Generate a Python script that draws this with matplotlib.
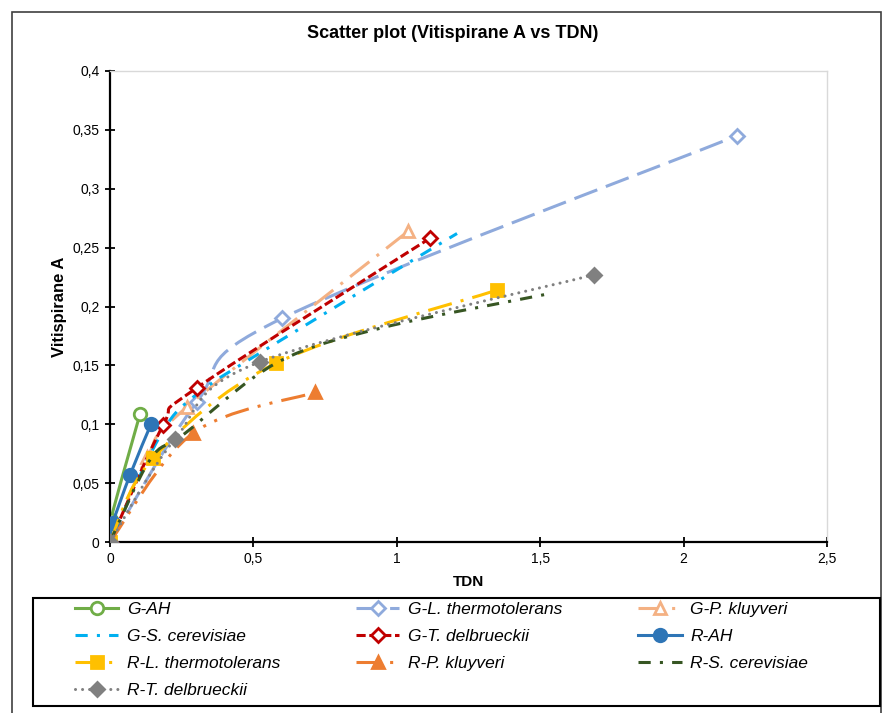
import numpy as np
import matplotlib
matplotlib.use('Agg')
import matplotlib.pyplot as plt
from matplotlib.path import Path
from matplotlib.patches import PathPatch, Rectangle
from matplotlib.lines import Line2D
from matplotlib.ticker import FuncFormatter

# values
names = ['G-AH', 'G-L. thermotolerans', 'G-P. kluyveri', 'G-S. cerevisiae',
         'G-T. delbrueckii', 'R-AH', 'R-L. thermotolerans', 'R-P. kluyveri',
         'R-S. cerevisiae', 'R-T. delbrueckii']

g_ah_x = [0, 0.003, 0.105]
g_ah_y = [0, 0.019, 0.109]
g_lt_x = [0, 0.303, 0.6, 2.186]
g_lt_y = [0, 0.119, 0.19, 0.345]
g_pk_x = [0, 0.13, 0.27, 1.04]
g_pk_y = [0, 0.072, 0.115, 0.264]
g_sc_x = [0, 0.17, 0.3, 0.6, 1.21]
g_sc_y = [0, 0.088, 0.125, 0.172, 0.262]
g_td_x = [0, 0.185, 0.303, 1.116]
g_td_y = [0, 0.099, 0.131, 0.258]
r_ah_x = [0, 0.01, 0.07, 0.143]
r_ah_y = [0, 0.016, 0.057, 0.1]
r_lt_x = [0, 0.15, 0.58, 1.35]
r_lt_y = [0, 0.071, 0.152, 0.214]
r_pk_x = [0, 0.29, 0.715]
r_pk_y = [0, 0.0925, 0.127]
r_sc_x = [0, 0.14, 0.26, 0.58, 0.95, 1.534]
r_sc_y = [0, 0.07, 0.092, 0.152, 0.182, 0.211]
r_td_x = [0, 0.227, 0.523, 1.688]
r_td_y = [0, 0.0875, 0.153, 0.227]

xs = [g_ah_x, g_lt_x, g_pk_x, g_sc_x, g_td_x, r_ah_x, r_lt_x, r_pk_x, r_sc_x, r_td_x]
ys = [g_ah_y, g_lt_y, g_pk_y, g_sc_y, g_td_y, r_ah_y, r_lt_y, r_pk_y, r_sc_y, r_td_y]

colors = ['#70AD47', '#8FAADC', '#F4B183', '#00B0F0', '#C00000',
          '#2E75B6', '#FFC000', '#ED7D31', '#375623', '#808080']
styles = ['-', (0, (8, 3)), (0, (8, 3, 1, 3)), (0, (4, 3, 1, 3)), (0, (3, 1.2)),
          '-', (0, (8, 3, 1, 3)), (0, (8, 3, 1, 3, 1, 3)), (0, (4, 3, 1, 3)), (0, (0.01, 2.3))]
markers = ['o', 'D', '^', 'None', 'D', 'o', 's', '^', 'None', 'D']
hollow = [True, True, True, False, True, False, False, False, False, False]
msizes = [9, 7, 9, 0, 7, 9, 8, 9, 0, 7]
caps = ['butt'] * 9 + ['round']
LW = 2.2


def smooth_path(x, y):
    pts = np.column_stack([x, y]).astype(float)
    n = len(pts)
    verts = [pts[0]]
    codes = [Path.MOVETO]
    for i in range(n - 1):
        p0 = pts[max(i - 1, 0)]
        p1 = pts[i]
        p2 = pts[i + 1]
        p3 = pts[min(i + 2, n - 1)]
        verts += [p1 + (p2 - p0) / 6, p2 - (p3 - p1) / 6, p2]
        codes += [Path.CURVE4] * 3
    return Path(verts, codes)


fig = plt.figure(figsize=(8.85, 7.13), dpi=100)
ax = fig.add_axes([110 / 885, 171 / 713, 717 / 885, 471 / 713])

handles = []
for i in range(len(names)):
    patch = PathPatch(smooth_path(xs[i], ys[i]), fill=False, edgecolor=colors[i],
                      lw=LW, linestyle=styles[i], capstyle=caps[i], zorder=2 + i)
    ax.add_patch(patch)
    mfc = 'white' if hollow[i] else colors[i]
    if markers[i] != 'None':
        ax.plot(xs[i], ys[i], linestyle='none', marker=markers[i], ms=msizes[i],
                mfc=mfc, mec=colors[i], mew=2, zorder=2.5 + i)
    handles.append(Line2D([], [], color=colors[i], lw=LW, linestyle=styles[i],
                          dash_capstyle=caps[i], marker=markers[i], ms=msizes[i],
                          mfc=mfc, mec=colors[i], mew=2))

ax.set_xlim(0, 2.5)
ax.set_ylim(0, 0.4)
ax.set_xticks([0, 0.5, 1, 1.5, 2, 2.5])
ax.set_yticks(np.arange(0, 0.401, 0.05))
comma = FuncFormatter(lambda v, p: ('%g' % round(v, 3)).replace('.', ','))
ax.xaxis.set_major_formatter(comma)
ax.yaxis.set_major_formatter(comma)
ax.tick_params(direction='inout', length=7, width=1.3, labelsize=10, colors='black', pad=4)
for lab in ax.get_xticklabels() + ax.get_yticklabels():
    lab.set_family('Liberation Sans')
for s in ['left', 'bottom']:
    ax.spines[s].set_linewidth(1.6)
for s in ['top', 'right']:
    ax.spines[s].set_color('#D9D9D9')
    ax.spines[s].set_linewidth(1)

ax.set_xlabel('TDN', fontsize=11, fontweight='bold', family='Liberation Sans', labelpad=6)
ax.set_ylabel('Vitispirane A', fontsize=12, fontweight='bold', family='Liberation Sans', labelpad=4)
fig.text(453 / 885, 1 - 33 / 713, 'Scatter plot (Vitispirane A vs TDN)', ha='center', va='center',
         fontsize=13, fontweight='bold', family='Liberation Sans')

# outer chart border and legend frame
fig.patches.append(Rectangle((12 / 885, -0.01), 869 / 885, 1.01 - 12 / 713, transform=fig.transFigure,
                             fill=False, edgecolor='#404040', lw=1.2))
fig.patches.append(Rectangle((33 / 885, 1 - 706 / 713), 847 / 885, 108 / 713, transform=fig.transFigure,
                             fill=False, edgecolor='black', lw=1.5))

order = [0, 3, 6, 9, 1, 4, 7, 2, 5, 8]
leg = fig.legend([handles[k] for k in order], [names[k] for k in order], ncol=3,
                 loc='upper left', bbox_to_anchor=(61 / 885, 1 - 588 / 713), frameon=False,
                 prop={'family': 'Liberation Sans', 'style': 'italic', 'size': 12.5},
                 handlelength=2.5, handletextpad=0.5, columnspacing=4.36, labelspacing=0.69,
                 borderpad=0.3)

fig.savefig('out.png', dpi=100)
